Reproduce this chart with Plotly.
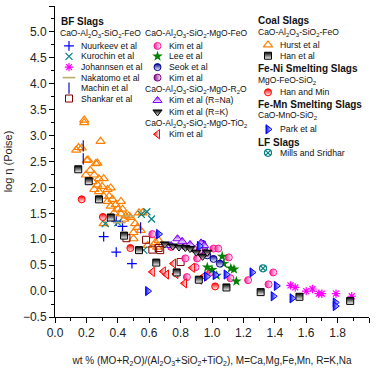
import plotly.graph_objects as go

# ---------------- data ----------------
nuurkeev_x = [0.31, 0.39, 0.43, 0.39, 0.49]
nuurkeev_y = [1.05, 1.35, 1.25, 0.75, 0.53]

kurochin_x = [0.32, 0.40, 0.55, 0.585, 0.615, 0.565]
kurochin_y = [1.30, 1.32, 1.48, 1.53, 1.39, 0.79]

johannsen_x = [1.50, 1.53, 1.60, 1.64, 1.68, 1.70, 1.79, 1.89]
johannsen_y = [0.11, 0.07, 0.00, 0.04, -0.05, -0.05, -0.05, -0.10]

nakatomo_x = [0.41, 0.47]
nakatomo_y = [1.32, 1.45]

machin_x = [0.18, 0.18, 0.545]
machin_y = [2.80, 2.55, 1.22]

shankar_x = [0.455, 0.58, 0.62, 0.66, 0.67, 0.80]
shankar_y = [1.02, 0.99, 0.80, 0.83, 0.79, 0.56]

kim_fe_x = [0.62, 0.74, 0.83, 0.905, 0.84, 0.895, 0.99, 1.01, 1.04, 1.107, 1.117, 1.23, 1.36, 1.39]
kim_fe_y = [1.10, 0.85, 0.63, 0.63, 0.27, 0.46, 0.36, 0.82, 0.82, 0.65, 0.25, 0.21, 0.13, 0.36]

lee_x = [0.97, 1.00, 1.03, 1.065, 1.075, 1.12, 1.14, 1.155]
lee_y = [0.46, 0.41, 0.30, 0.67, 0.53, 0.44, 0.42, 0.19]

seok_x = [0.94, 0.95, 0.97, 1.01, 1.05]
seok_y = [0.91, 0.82, 0.69, 0.62, 0.53]

kim_mg_x = [0.83, 0.88, 0.92, 0.96]
kim_mg_y = [0.86, 0.82, 0.78, 0.74]

kim_na_x = [0.74, 0.78, 0.81, 0.86, 0.93, 0.95]
kim_na_y = [0.88, 1.01, 0.96, 0.90, 0.93, 0.88]

kim_k_x = [0.70, 0.75, 0.79, 0.83, 0.86, 0.90, 0.94, 0.97]
kim_k_y = [0.91, 0.87, 0.85, 0.84, 0.82, 0.75, 0.67, 0.75]

kim_ti_x = [0.62, 0.69, 0.71, 0.755, 0.77, 0.825, 0.875, 0.92, 0.95]
kim_ti_y = [0.37, 0.38, 0.32, 0.53, 0.33, 0.15, 0.45, 0.22, 0.29]

hurst_x = [0.186, 0.186, 0.29, 0.15, 0.135, 0.21, 0.27, 0.203, 0.26, 0.224,
           0.197, 0.25, 0.28, 0.31, 0.24, 0.27, 0.30, 0.25, 0.28, 0.335,
           0.355, 0.31, 0.345, 0.366, 0.335, 0.387, 0.42, 0.355, 0.40, 0.43,
           0.377, 0.42, 0.45, 0.47, 0.44, 0.48, 0.535, 0.557, 0.31, 0.51,
           0.525, 0.50, 0.546, 0.50, 0.63, 0.64, 0.66, 0.59, 0.65, 0.17]
hurst_y = [3.30, 3.25, 2.89, 2.77, 2.72, 2.53, 2.47, 2.52, 2.46, 2.33,
           2.24, 2.24, 2.17, 2.17, 2.11, 2.05, 2.02, 1.96, 1.92, 1.96,
           1.99, 1.83, 1.83, 1.77, 1.73, 1.67, 1.73, 1.64, 1.58, 1.58,
           1.51, 1.49, 1.45, 1.45, 1.39, 1.42, 1.51, 1.51, 1.30, 1.30,
           1.23, 1.13, 1.17, 1.01, 1.07, 0.94, 0.98, 0.88, 0.85, 2.76]

han_coal_x = [0.148, 0.215, 0.28, 0.355, 0.44, 0.535, 0.645, 0.775, 0.916, 1.092, 1.31, 1.557, 1.88]
han_coal_y = [2.35, 2.12, 1.77, 1.42, 1.07, 0.79, 0.55, 0.36, 0.22, 0.07, -0.02, -0.11, -0.19]

han_min_x = [0.17, 0.305, 0.48, 1.02]
han_min_y = [1.77, 1.43, 0.83, 0.09]

park_x = [0.59, 0.66, 0.92, 0.965, 1.02, 1.09, 1.255, 1.41, 1.39, 1.51, 1.785, 1.785]
park_y = [0.00, 1.10, 0.87, 0.28, 0.31, 0.32, 0.36, 0.10, -0.10, -0.14, -0.22, -0.29]

mills_x = [1.325]
mills_y = [0.44]

x_ticks = [0.0, 0.2, 0.4, 0.6, 0.8, 1.0, 1.2, 1.4, 1.6, 1.8, 2.0]
y_ticks = [-0.5, 0.0, 0.5, 1.0, 1.5, 2.0, 2.5, 3.0, 3.5, 4.0, 4.5, 5.0, 5.5]

# ---------------- styles ----------------
FONT = "Liberation Sans, Arial, sans-serif"
W, H = 377, 370
ML, MR, MT, MB = 55, 8, 6, 47


def half(symbol, color, size=7, gtype="horizontal"):
    return dict(symbol=symbol, size=size, color=color,
                gradient=dict(type=gtype, color="white"),
                line=dict(color=color, width=1))


styles = {
    "nuurkeev": dict(symbol="cross-thin", size=7, color="#0000ff", line=dict(color="#0000ff", width=1.2)),
    "kurochin": dict(symbol="x-thin", size=7, color="#008080", line=dict(color="#008080", width=1.2)),
    "johannsen": dict(symbol="asterisk", size=7, color="#ff00ff", line=dict(color="#ff00ff", width=1.2)),
    "nakatomo": dict(symbol="line-ew", size=9, color="#b8ad6e", line=dict(color="#b8ad6e", width=1.6)),
    "machin": dict(symbol="line-ns", size=8, color="#1010c0", line=dict(color="#1010c0", width=1.2)),
    "shankar": dict(symbol="square-open", size=7, color="#800000", line=dict(color="#800000", width=1)),
    "kim_fe": half("circle", "#ff1493", 7),
    "lee": dict(symbol="star", size=8, color="#008000", line=dict(width=0)),
    "seok": half("circle", "#000090", 7, "vertical"),
    "kim_mg": half("circle", "#800080", 7),
    "kim_na": half("triangle-up", "#8000ff", 8, "vertical"),
    "kim_k": half("triangle-down", "#000000", 8, "vertical"),
    "kim_ti": half("triangle-left", "#ff0000", 8),
    "hurst": dict(symbol="triangle-up-open", size=8, color="#ff8000", line=dict(color="#ff8000", width=1.2)),
    "han_coal": half("square", "#000000", 7, "vertical"),
    "han_min": half("circle", "#ff0000", 7, "vertical"),
    "park": half("triangle-right", "#0000ff", 8),
    "mills": dict(symbol="circle-x-open", size=7, color="#008080", line=dict(color="#008080", width=1.2)),
}

series = [
    ("Hurst et al", hurst_x, hurst_y, "hurst"),
    ("Nuurkeev et al", nuurkeev_x, nuurkeev_y, "nuurkeev"),
    ("Kurochin et al", kurochin_x, kurochin_y, "kurochin"),
    ("Johannsen et al", johannsen_x, johannsen_y, "johannsen"),
    ("Nakatomo et al", nakatomo_x, nakatomo_y, "nakatomo"),
    ("Machin et al", machin_x, machin_y, "machin"),
    ("Shankar et al", shankar_x, shankar_y, "shankar"),
    ("Kim et al", kim_fe_x, kim_fe_y, "kim_fe"),
    ("Lee et al", lee_x, lee_y, "lee"),
    ("Seok et al", seok_x, seok_y, "seok"),
    ("Kim et al", kim_mg_x, kim_mg_y, "kim_mg"),
    ("Kim et al (R=Na)", kim_na_x, kim_na_y, "kim_na"),
    ("Kim et al (R=K)", kim_k_x, kim_k_y, "kim_k"),
    ("Kim et al", kim_ti_x, kim_ti_y, "kim_ti"),
    ("Han et al", han_coal_x, han_coal_y, "han_coal"),
    ("Han and Min", han_min_x, han_min_y, "han_min"),
    ("Park et al", park_x, park_y, "park"),
    ("Mills and Sridhar", mills_x, mills_y, "mills"),
]

fig = go.Figure()
for name, xs, ys, key in series:
    fig.add_trace(go.Scatter(x=xs, y=ys, mode="markers", name=name,
                             marker=styles[key], showlegend=False))

# ---------------- hand-built legend (helper axes in pixel units) ----------------
A3 = "CaO-Al<sub>2</sub>O<sub>3</sub>-SiO<sub>2</sub>"
legend_rows = [
    # (kind, x_px, y_px, text, style)
    ("head", 61, 21.7, "BF Slags", None),
    ("sub", 60, 33, A3 + "-FeO", None),
    ("item", 69, 46.7, "Nuurkeev et al", "nuurkeev"),
    ("item", 69, 57.3, "Kurochin et al", "kurochin"),
    ("item", 69, 68.3, "Johannsen et al", "johannsen"),
    ("item", 69, 79.0, "Nakatomo et al", "nakatomo"),
    ("item", 69, 89.7, "Machin et al", "machin"),
    ("item", 69, 100.3, "Shankar et al", "shankar"),
    ("sub", 145, 33, A3 + "-MgO-FeO", None),
    ("item", 157.5, 46.7, "Kim et al", "kim_fe"),
    ("item", 157.5, 57.3, "Lee et al", "lee"),
    ("item", 157.5, 68.3, "Seok et al", "seok"),
    ("item", 157.5, 79.0, "Kim et al", "kim_mg"),
    ("sub", 145, 89.7, A3 + "-MgO-R<sub>2</sub>O", None),
    ("item", 157.5, 102.3, "Kim et al (R=Na)", "kim_na"),
    ("item", 157.5, 114.0, "Kim et al (R=K)", "kim_k"),
    ("sub", 145, 124.3, A3 + "-MgO-TiO<sub>2</sub>", None),
    ("item", 157.5, 136.7, "Kim et al", "kim_ti"),
    ("head", 258, 20.7, "Coal Slags", None),
    ("sub", 258, 32.3, A3 + "-FeO", None),
    ("item", 268, 45.7, "Hurst et al", "hurst"),
    ("item", 268, 56.7, "Han et al", "han_coal"),
    ("head", 258, 70.0, "Fe-Ni Smelting Slags", None),
    ("sub", 258, 81.0, "MgO-FeO-SiO<sub>2</sub>", None),
    ("item", 268, 94.0, "Han and Min", "han_min"),
    ("head", 258, 106.7, "Fe-Mn Smelting Slags", None),
    ("sub", 258, 116.7, "CaO-MnO-SiO<sub>2</sub>", None),
    ("item", 268, 131.7, "Park et al", "park"),
    ("head", 258, 145.0, "LF Slags", None),
    ("item", 268, 155.7, "Mills and Sridhar", "mills"),
]

annotations = []
for kind, xp, yp, text, key in legend_rows:
    if kind == "item":
        fig.add_trace(go.Scatter(x=[xp], y=[yp], mode="markers", xaxis="x2", yaxis="y2",
                                 marker=styles[key], showlegend=False, hoverinfo="skip"))
        annotations.append(dict(x=xp + 9.5, y=yp, xref="x2", yref="y2", text=text,
                                showarrow=False, xanchor="left", yanchor="middle",
                                font=dict(family=FONT, size=8.7, color="#111")))
    elif kind == "head":
        annotations.append(dict(x=xp - 2, y=yp, xref="x2", yref="y2", text="<b>" + text + "</b>",
                                showarrow=False, xanchor="left", yanchor="middle",
                                font=dict(family=FONT, size=10, color="#111")))
    else:
        annotations.append(dict(x=xp - 2, y=yp + 1, xref="x2", yref="y2", text=text,
                                showarrow=False, xanchor="left", yanchor="middle",
                                font=dict(family=FONT, size=8.5, color="#111")))

axis_common = dict(showline=True, linecolor="black", linewidth=1, showgrid=False,
                   zeroline=False, tickcolor="black", ticklen=5, tickwidth=1)

fig.update_layout(
    width=W, height=H,
    margin=dict(l=ML, r=MR, t=MT, b=MB),
    paper_bgcolor="white", plot_bgcolor="white",
    font=dict(family=FONT, size=12, color="#222"),
    showlegend=False,
    xaxis=dict(range=[0, 2], tickvals=x_ticks, tickformat=".1f", ticks="outside",
               minor=dict(dtick=0.1, ticks="outside", ticklen=3, tickcolor="black"),
               title=dict(text="wt % (MO+R<sub>2</sub>O)/(Al<sub>2</sub>O<sub>3</sub>+SiO<sub>2</sub>+TiO<sub>2</sub>), M=Ca,Mg,Fe,Mn, R=K,Na",
                          font=dict(size=10, color="#222"), standoff=17),
               tickfont=dict(size=12), **axis_common),
    yaxis=dict(range=[-0.5, 5.5], tickvals=y_ticks, tickformat=".1f", ticks="outside",
               minor=dict(dtick=0.25, ticks="outside", ticklen=3, tickcolor="black"),
               title=dict(text="log η (Poise)", font=dict(size=11, color="#222"), standoff=8),
               tickfont=dict(size=12), **axis_common),
    xaxis3=dict(range=[0, 2], overlaying="x", side="top", anchor="y", tickvals=x_ticks,
                showticklabels=False, ticks="inside",
                minor=dict(dtick=0.1, ticks="inside", ticklen=3, tickcolor="black"), **axis_common),
    yaxis3=dict(range=[-0.5, 5.5], overlaying="y", side="right", anchor="x", tickvals=y_ticks,
                showticklabels=False, ticks="inside",
                minor=dict(dtick=0.25, ticks="inside", ticklen=3, tickcolor="black"), **axis_common),
    xaxis2=dict(range=[ML, W - MR], overlaying="x", visible=False, anchor="y2"),
    yaxis2=dict(range=[H - MB, MT], overlaying="y", visible=False, anchor="x2"),
    annotations=annotations,
)

fig.write_html("out.html")
